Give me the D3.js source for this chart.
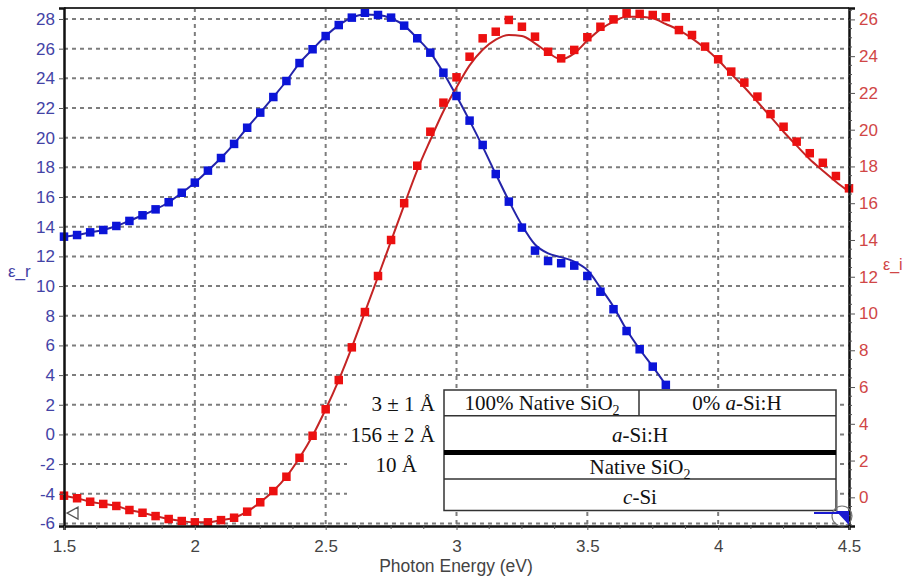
<!DOCTYPE html>
<html>
<head>
<meta charset="utf-8">
<script src="https://cdn.jsdelivr.net/npm/d3@7"></script>
<style>
  body { margin: 0; background: #fff; }
</style>
</head>
<body>
<div id="chart"></div>
<script>
// photon energy (eV) for the eps_r points
const energyR = [1.50, 1.55, 1.60, 1.65, 1.70, 1.75, 1.80, 1.85, 1.90, 1.95,
                 2.00, 2.05, 2.10, 2.15, 2.20, 2.25, 2.30, 2.35, 2.40, 2.45,
                 2.50, 2.55, 2.60, 2.65, 2.70, 2.75, 2.80, 2.85, 2.90, 2.95,
                 3.00, 3.05, 3.10, 3.15, 3.20, 3.25, 3.30, 3.35, 3.40, 3.45,
                 3.50, 3.55, 3.60, 3.65, 3.70, 3.75, 3.80];
// measured eps_r (squares)
const epsR = [13.33, 13.44, 13.62, 13.78, 14.05, 14.39, 14.77, 15.17, 15.65, 16.29,
              16.97, 17.78, 18.63, 19.58, 20.67, 21.69, 22.74, 23.82, 25.03, 25.96,
              26.85, 27.59, 28.09, 28.42, 28.27, 28.09, 27.55, 26.70, 25.73, 24.38,
              22.81, 21.15, 19.51, 17.55, 15.69, 13.94, 12.39, 11.69, 11.54, 11.38,
              10.68, 9.62, 8.44, 6.97, 5.74, 4.57, 3.34];
// model eps_r (line)
const epsRFit = [13.33, 13.44, 13.62, 13.78, 14.05, 14.39, 14.77, 15.17, 15.65, 16.29,
                 16.97, 17.78, 18.63, 19.58, 20.67, 21.69, 22.74, 23.82, 25.03, 25.96,
                 26.85, 27.59, 28.09, 28.30, 28.27, 28.05, 27.55, 26.70, 25.73, 24.38,
                 22.81, 21.15, 19.40, 17.55, 15.75, 14.10, 12.80, 12.20, 11.95, 11.65,
                 11.08, 9.89, 8.61, 7.05, 5.74, 4.57, 3.34];

// photon energy (eV) for the eps_i points
const energyI = [1.50, 1.55, 1.60, 1.65, 1.70, 1.75, 1.80, 1.85, 1.90, 1.95,
                 2.00, 2.05, 2.10, 2.15, 2.20, 2.25, 2.30, 2.35, 2.40, 2.45,
                 2.50, 2.55, 2.60, 2.65, 2.70, 2.75, 2.80, 2.85, 2.90, 2.95,
                 3.00, 3.05, 3.10, 3.15, 3.20, 3.25, 3.30, 3.35, 3.40, 3.45,
                 3.50, 3.55, 3.60, 3.65, 3.70, 3.75, 3.80, 3.85, 3.90, 3.95,
                 4.00, 4.05, 4.10, 4.15, 4.20, 4.25, 4.30, 4.35, 4.40, 4.45,
                 4.50];
// measured eps_i (squares)
const epsI = [0.09, -0.05, -0.24, -0.36, -0.47, -0.69, -0.84, -1.02, -1.18, -1.29,
              -1.36, -1.36, -1.24, -1.11, -0.78, -0.27, 0.34, 1.12, 2.15, 3.35,
              4.79, 6.38, 8.16, 10.08, 12.04, 14.00, 16.00, 18.04, 19.89, 21.47,
              22.85, 23.97, 24.97, 25.33, 25.97, 25.60, 25.06, 24.24, 23.88, 24.34,
              25.03, 25.60, 26.00, 26.33, 26.30, 26.24, 26.12, 25.42, 25.15, 24.52,
              23.83, 23.16, 22.56, 21.80, 20.85, 20.16, 19.35, 18.72, 18.20, 17.48,
              16.81];
// model eps_i (line)
const epsIFit = [0.09, -0.05, -0.24, -0.36, -0.47, -0.69, -0.84, -1.02, -1.18, -1.29,
                 -1.36, -1.36, -1.24, -1.11, -0.78, -0.27, 0.34, 1.12, 2.15, 3.35,
                 4.79, 6.38, 8.16, 10.08, 12.00, 13.95, 15.90, 17.80, 19.44, 21.00,
                 22.30, 23.50, 24.35, 24.90, 25.15, 25.10, 24.70, 24.19, 23.83, 24.15,
                 24.85, 25.46, 25.88, 26.15, 26.15, 26.06, 25.75, 25.42, 24.97, 24.43,
                 23.79, 23.03, 22.31, 21.52, 20.71, 19.89, 19.13, 18.39, 17.77, 17.17,
                 16.63];

const xTicks = [1.5, 2, 2.5, 3, 3.5, 4, 4.5];
const leftTicks = [-6, -4, -2, 0, 2, 4, 6, 8, 10, 12, 14, 16, 18, 20, 22, 24, 26, 28];
const rightTicks = [0, 2, 4, 6, 8, 10, 12, 14, 16, 18, 20, 22, 24, 26];

// layer stack drawn in the lower right
const layerThickness = ["3 ± 1 Å", "156 ± 2 Å", "10 Å"];

const width = 910, height = 579;
const pLeft = 64, pRight = 849, pTop = 8, pBottom = 526;

const svg = d3.select("#chart").append("svg")
    .attr("width", width)
    .attr("height", height)
    .style("font-family", "Arial, 'Liberation Sans', sans-serif");

svg.append("rect").attr("width", width).attr("height", height).attr("fill", "#fff");

const x = d3.scaleLinear().domain([1.5, 4.5]).range([pLeft, pRight]);
const yL = d3.scaleLinear().domain([-6.17, 28.74]).range([pBottom, pTop]);
const yR = d3.scaleLinear().domain([-1.56, 26.62]).range([pBottom, pTop]);

// grid (dashed, behind everything)
const gridH = svg.append("g").attr("class", "grid-h");
leftTicks.forEach(v => {
    gridH.append("line")
        .attr("x1", pLeft).attr("x2", pRight)
        .attr("y1", yL(v)).attr("y2", yL(v))
        .style("stroke", "#7d7d7d")
        .style("stroke-width", "2px")
        .style("stroke-dasharray", "4 4");
});
const gridV = svg.append("g").attr("class", "grid-v");
xTicks.slice(1, -1).forEach(v => {
    gridV.append("line")
        .attr("x1", x(v)).attr("x2", x(v))
        .attr("y1", pTop).attr("y2", pBottom)
        .style("stroke", "#7d7d7d")
        .style("stroke-width", "2px")
        .style("stroke-dasharray", "4 4");
});

// curves
const lineR = d3.line()
    .x((d, i) => x(energyR[i]))
    .y(d => yL(d))
    .curve(d3.curveMonotoneX);
const lineI = d3.line()
    .x((d, i) => x(energyI[i]))
    .y(d => yR(d))
    .curve(d3.curveMonotoneX);

svg.append("path").datum(epsRFit)
    .attr("d", lineR)
    .attr("fill", "none")
    .attr("stroke", "#2424a8")
    .attr("stroke-width", 2);

svg.append("path").datum(epsIFit)
    .attr("d", lineI)
    .attr("fill", "none")
    .attr("stroke", "#c42424")
    .attr("stroke-width", 2);

const sq = 8.5;
svg.append("g").selectAll("rect").data(epsR).enter().append("rect")
    .attr("x", (d, i) => x(energyR[i]) - sq / 2)
    .attr("y", d => yL(d) - sq / 2)
    .attr("width", sq).attr("height", sq)
    .attr("fill", "#0b14d8");

svg.append("g").selectAll("rect").data(epsI).enter().append("rect")
    .attr("x", (d, i) => x(energyI[i]) - sq / 2)
    .attr("y", d => yR(d) - sq / 2)
    .attr("width", sq).attr("height", sq)
    .attr("fill", "#ec1010");

// layer model box
const box = svg.append("g");
box.append("rect")
    .attr("x", 347).attr("y", 390).attr("width", 836 - 347).attr("height", 121)
    .attr("fill", "#fff");
const bx0 = 444, bx1 = 836;
const rows = [390, 415.7, 450, 455, 479, 510.5];
box.append("rect")
    .attr("x", bx0).attr("y", rows[0]).attr("width", bx1 - bx0).attr("height", rows[5] - rows[0])
    .attr("fill", "#fff").attr("stroke", "#333").attr("stroke-width", 1.5);
[rows[1], rows[4]].forEach(yy => {
    box.append("line").attr("x1", bx0).attr("x2", bx1).attr("y1", yy).attr("y2", yy)
        .attr("stroke", "#333").attr("stroke-width", 1.5);
});
box.append("rect")
    .attr("x", bx0).attr("y", rows[2]).attr("width", bx1 - bx0).attr("height", rows[3] - rows[2])
    .attr("fill", "#000");
box.append("line").attr("x1", 639).attr("x2", 639).attr("y1", rows[0]).attr("y2", rows[1])
    .attr("stroke", "#333").attr("stroke-width", 1.5);

const serif = "'Liberation Serif', 'Times New Roman', serif";
function cellText(cx, cy, parts, anchor) {
    const t = box.append("text")
        .attr("x", cx).attr("y", cy)
        .attr("text-anchor", anchor || "middle")
        .attr("font-family", serif)
        .attr("font-size", 21)
        .attr("fill", "#111");
    parts.forEach(p => {
        const s = t.append("tspan").text(p.t);
        if (p.i) s.attr("font-style", "italic");
        if (p.sub) s.attr("font-size", 14).attr("dy", 5);
    });
}
cellText(542, 410, [{ t: "100% Native SiO" }, { t: "2", sub: true }]);
cellText(737, 410, [{ t: "0% " }, { t: "a", i: true }, { t: "-Si:H" }]);
cellText(640, 442, [{ t: "a", i: true }, { t: "-Si:H" }]);
cellText(640, 474, [{ t: "Native SiO" }, { t: "2", sub: true }]);
cellText(640, 504, [{ t: "c", i: true }, { t: "-Si" }]);
cellText(435, 411, [{ t: layerThickness[0] }], "end");
cellText(435, 442, [{ t: layerThickness[1] }], "end");
cellText(417, 472, [{ t: layerThickness[2] }], "end");

// frame
svg.append("line").attr("x1", pLeft).attr("x2", pRight).attr("y1", pTop).attr("y2", pTop)
    .attr("stroke", "#333").attr("stroke-width", 2);

// axes
const axisL = svg.append("g").attr("transform", `translate(${pLeft},0)`)
    .call(d3.axisLeft(yL).tickValues(leftTicks).tickFormat(d => String(d)).tickSize(5).tickPadding(4));
axisL.select(".domain").attr("stroke", "#111").attr("stroke-width", 2.5);
axisL.selectAll(".tick line").attr("stroke", "#555");
axisL.selectAll("text").attr("fill", "#4343a6").attr("font-size", 17).attr("font-family", null);

const axisR = svg.append("g").attr("transform", `translate(${pRight},0)`)
    .call(d3.axisRight(yR).tickValues(rightTicks).tickFormat(d => String(d)).tickSize(6).tickPadding(4));
axisR.select(".domain").attr("stroke", "#111").attr("stroke-width", 2.5);
axisR.selectAll(".tick line").attr("stroke", "#555");
axisR.selectAll("text").attr("fill", "#d04646").attr("font-size", 17).attr("font-family", null);
axisR.selectAll("line.minor").data(d3.range(-1.5, 26.6, 0.5).filter(v => v % 2 !== 0))
    .enter().append("line").attr("class", "minor")
    .attr("x1", 0).attr("x2", 3)
    .attr("y1", d => yR(d)).attr("y2", d => yR(d))
    .attr("stroke", "#555");

const axisB = svg.append("g").attr("transform", `translate(0,${pBottom})`)
    .call(d3.axisBottom(x).tickValues(xTicks).tickFormat(d => String(d)).tickSize(4).tickPadding(10));
axisB.select(".domain").attr("stroke", "#111").attr("stroke-width", 2.5);
axisB.selectAll(".tick line").attr("stroke", "#555");
axisB.selectAll("text").attr("fill", "#444").attr("font-size", 17).attr("font-family", null);
axisB.selectAll("line.minor").data(d3.range(1.625, 4.5, 0.125).filter(v => Math.abs(v * 2 - Math.round(v * 2)) > 0.01))
    .enter().append("line").attr("class", "minor")
    .attr("x1", d => x(d)).attr("x2", d => x(d))
    .attr("y1", 0).attr("y2", 3)
    .attr("stroke", "#555");

// axis titles
svg.append("text").attr("x", 456).attr("y", 572).attr("text-anchor", "middle")
    .attr("font-size", 17.5).attr("fill", "#444").text("Photon Energy (eV)");
svg.append("text").attr("x", 8).attr("y", 277)
    .attr("font-size", 17).attr("fill", "#4343a6").text("ε_r");
svg.append("text").attr("x", 883).attr("y", 270)
    .attr("font-size", 16).attr("fill", "#d04646").text("ε_i");

// cursor markers
svg.append("path")
    .attr("d", `M${pLeft + 3},${yL(-5.3)} l11,-6 v12 z`)
    .attr("fill", "none").attr("stroke", "#555").attr("stroke-width", 1.3);
const mk = svg.append("g");
mk.append("circle").attr("cx", 842).attr("cy", 516).attr("r", 10)
    .attr("fill", "none").attr("stroke", "#777").attr("stroke-width", 1.2);
mk.append("line").attr("x1", 837).attr("x2", 837).attr("y1", 490).attr("y2", 514)
    .attr("stroke", "#777").attr("stroke-width", 1.2);
mk.append("line").attr("x1", 814).attr("x2", pRight).attr("y1", 513).attr("y2", 513)
    .attr("stroke", "#1a1ad0").attr("stroke-width", 2);
mk.append("path").attr("d", `M836,511 L849,511 L849,525 Z`).attr("fill", "#1a1ad0");
</script>
</body>
</html>
